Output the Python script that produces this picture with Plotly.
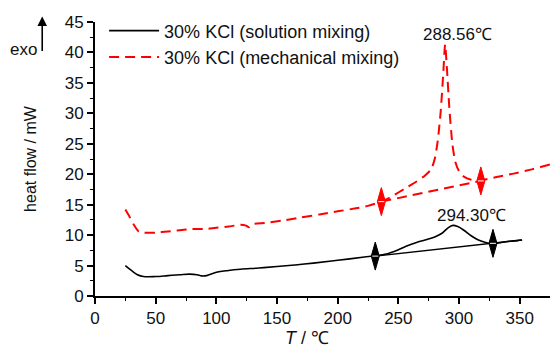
import plotly.graph_objects as go

# ---- data ----
sol_T = [25, 30, 35, 40, 50, 60, 70, 78, 84, 88, 92, 100, 110, 120, 135, 150, 165, 180, 195, 210,
         222, 231, 240, 250, 258, 265, 272, 280, 286, 291, 295, 299, 304, 310, 316, 322, 328, 335,
         342, 348, 352]
sol_hf = [5.0, 4.2, 3.5, 3.2, 3.2, 3.35, 3.5, 3.6, 3.5, 3.3, 3.35, 3.9, 4.2, 4.4, 4.6, 4.85, 5.1,
          5.4, 5.75, 6.1, 6.4, 6.6, 6.9, 7.6, 8.3, 8.8, 9.2, 9.7, 10.3, 11.2, 11.6, 11.4, 10.8, 9.9,
          9.2, 8.8, 8.6, 8.8, 9.0, 9.1, 9.2]

mech_T = [25, 28, 32, 36, 40, 50, 60, 70, 80, 90, 100, 110, 120, 124, 127, 130, 140, 155, 170, 185,
          200, 215, 225, 236, 245, 255, 265, 272, 277, 280, 282.5, 285, 287, 288.56, 290, 292,
          294.5, 297, 300, 304, 310, 318, 330, 345, 360, 375, 380]
mech_hf = [14.2, 13.2, 11.7, 10.6, 10.4, 10.4, 10.6, 10.8, 11.0, 11.0, 11.2, 11.4, 11.7, 11.6, 11.3,
           11.8, 12.0, 12.4, 12.9, 13.4, 13.9, 14.4, 14.8, 15.5, 16.4, 17.6, 18.8, 19.8, 20.8, 22.5,
           25.5, 30.5, 36.5, 41.3, 37.5, 31.0, 25.0, 22.0, 20.5, 19.6, 19.1, 19.0, 19.5, 20.1, 20.8,
           21.6, 21.9]

sol_base_T = [231, 352]
sol_base_hf = [6.55, 9.2]
mech_base_T = [236, 318]
mech_base_hf = [15.5, 18.9]

sol_mark_T = [231, 328]
sol_mark_hf = [6.55, 8.65]
mech_mark_T = [236, 318]
mech_mark_hf = [15.5, 18.9]

peak_labels = ["288.56℃", "294.30℃"]
peak_label_T = [299, 310]
peak_label_hf = [42.9, 13.2]

x_ticks = [0, 50, 100, 150, 200, 250, 300, 350]
y_ticks = [0, 5, 10, 15, 20, 25, 30, 35, 40, 45]

FONT = "Liberation Sans, Arial, sans-serif"
RED = "#ff0000"

fig = go.Figure()
fig.add_trace(go.Scatter(x=sol_T, y=sol_hf, mode="lines", line=dict(color="black", width=1.6, shape="spline"),
                         name="30% KCl (solution mixing)"))
fig.add_trace(go.Scatter(x=mech_T, y=mech_hf, mode="lines",
                         line=dict(color=RED, width=2, dash="10px,6px", shape="spline", smoothing=0.6),
                         name="30% KCl (mechanical mixing)"))
fig.add_trace(go.Scatter(x=sol_base_T, y=sol_base_hf, mode="lines", line=dict(color="black", width=1.4),
                         showlegend=False))
fig.add_trace(go.Scatter(x=mech_base_T, y=mech_base_hf, mode="lines",
                         line=dict(color=RED, width=2, dash="10px,6px"), showlegend=False))

spindle = "M0,14 L4,0 L0,-14 L-4,0 Z"
for xs, ys, col in [(sol_mark_T, sol_mark_hf, "black"), (mech_mark_T, mech_mark_hf, RED)]:
    for xv, yv in zip(xs, ys):
        fig.add_shape(type="path", xref="x", yref="y", xsizemode="pixel", ysizemode="pixel",
                      xanchor=xv, yanchor=yv, path=spindle, fillcolor=col, line=dict(color=col, width=1))
        fig.add_shape(type="path", xref="x", yref="y", xsizemode="pixel", ysizemode="pixel",
                      xanchor=xv, yanchor=yv, path="M-3,0 L3,0", line=dict(color="white", width=1))

for txt, xv, yv in zip(peak_labels, peak_label_T, peak_label_hf):
    fig.add_annotation(x=xv, y=yv, text=txt, showarrow=False, font=dict(size=17, color="#111", family=FONT))

# exo arrow
fig.add_annotation(xref="paper", yref="paper", x=-0.116, y=1.02, ax=0, ay=36, axref="pixel", ayref="pixel",
                   showarrow=True, arrowhead=2, arrowsize=1.2, arrowwidth=1.6, arrowcolor="black", text="")
fig.add_annotation(xref="paper", yref="paper", x=-0.123, y=0.9, xanchor="right", yanchor="middle",
                   text="exo", showarrow=False, font=dict(size=17, color="#111", family=FONT))

# x title
fig.add_annotation(xref="paper", yref="paper", x=0.466, y=-0.152, yanchor="middle", showarrow=False,
                   text="<i>T</i> / ℃", font=dict(size=18, color="#111", family=FONT))

fig.update_layout(
    width=550, height=347,
    margin=dict(l=95, r=0, t=22, b=51),
    paper_bgcolor="white", plot_bgcolor="white",
    font=dict(family=FONT, size=17, color="#111"),
    showlegend=True,
    legend=dict(x=0.02, y=1.035, xanchor="left", yanchor="top", bgcolor="rgba(0,0,0,0)",
                font=dict(size=18, family=FONT), itemwidth=50, tracegroupgap=0),
    xaxis=dict(range=[0, 375], tickvals=x_ticks, showline=True, linecolor="black", linewidth=2,
               ticks="outside", ticklen=6, tickwidth=1.5, tickcolor="black", showgrid=False, zeroline=False,
               minor=dict(dtick=25, ticks="outside", ticklen=3, tickwidth=1.2, tickcolor="black"),
               tickfont=dict(size=17, family=FONT)),
    yaxis=dict(range=[0, 45], tickvals=y_ticks, showline=True, linecolor="black", linewidth=2,
               ticks="outside", ticklen=6, tickwidth=1.5, tickcolor="black", showgrid=False, zeroline=False,
               minor=dict(dtick=2.5, ticks="outside", ticklen=3, tickwidth=1.2, tickcolor="black"),
               tickfont=dict(size=17, family=FONT),
               title=dict(text="heat flow / mW", font=dict(size=16, family=FONT), standoff=24)),
)

fig.write_html("out.html")
